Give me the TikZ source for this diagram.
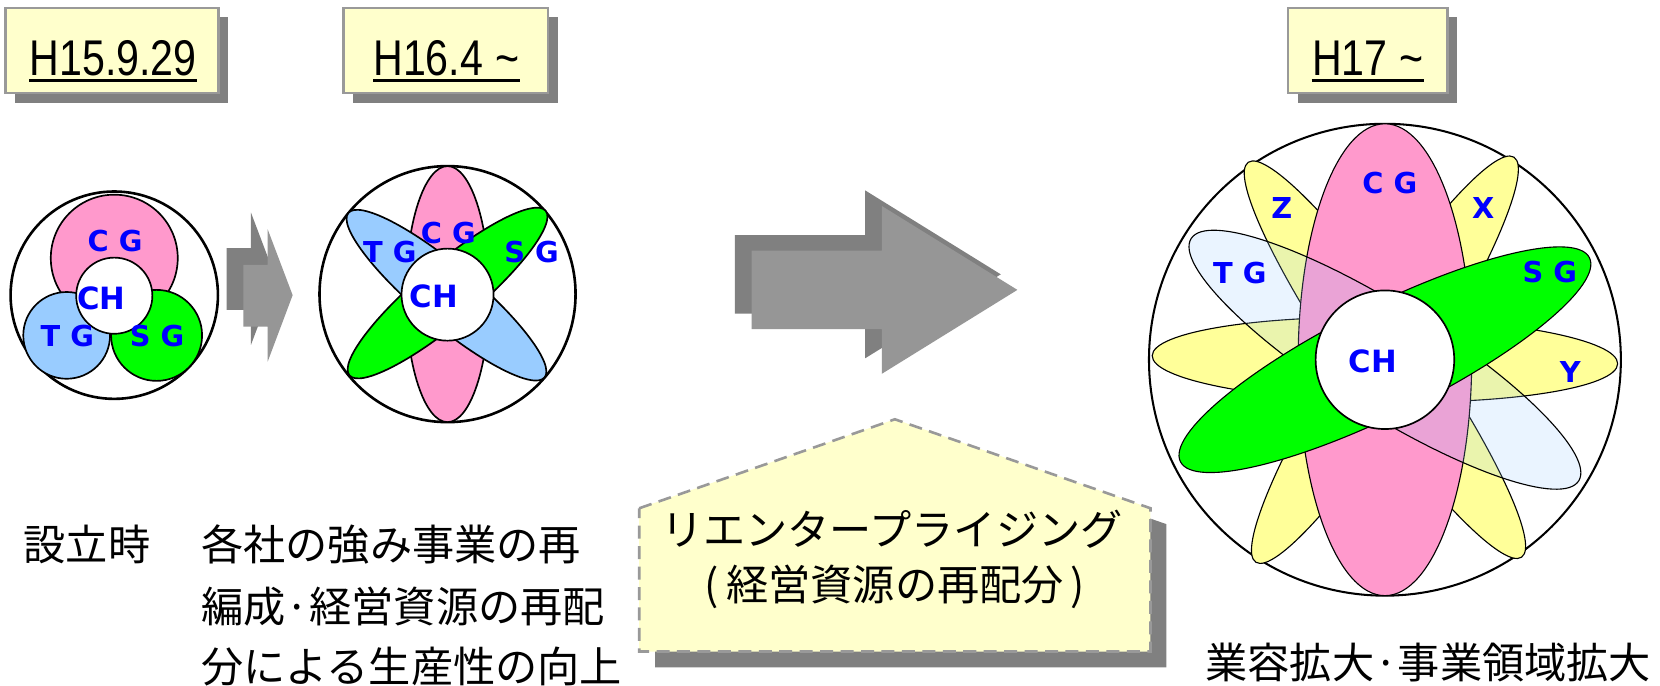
\documentclass[tikz,border=0pt]{standalone}
\usepackage{graphicx}
\usepackage{fontspec}
\setmainfont{Noto Sans CJK JP}
\newfontfamily\arialf{Liberation Sans}
\newfontfamily\lblf{DejaVu Sans}
\definecolor{boxfill}{HTML}{FFFFCC}
\definecolor{boxedge}{HTML}{999999}
\definecolor{shadowgray}{HTML}{808080}
\definecolor{arrowback}{HTML}{808080}
\definecolor{arrowfront}{HTML}{969696}
\definecolor{pinkf}{HTML}{FF99CC}
\definecolor{bluef}{HTML}{99CCFF}
\definecolor{greenf}{HTML}{00FF00}
\definecolor{yellowf}{HTML}{FFFF99}
\definecolor{lblblue}{HTML}{0000FF}
\begin{document}
\begin{tikzpicture}[x=0.02cm,y=-0.02cm,
  dshadow/.style={fill=shadowgray, draw=none},
  dbox/.style={fill=boxfill, draw=boxedge, line width=1.4pt},
  dtext/.style={font=\arialf\fontsize{27}{30}\selectfont, inner sep=0pt, anchor=base},
  uline/.style={line width=1.5pt},
  outerring/.style={draw=black, line width=1.4pt},
  part/.style={draw=black, line width=0.9pt},
  thinpart/.style={draw=black, line width=0.6pt},
  lbl/.style={font=\lblf\bfseries\fontsize{15.5}{18}\selectfont, text=lblblue, inner sep=0pt},
  chlbl/.style={font=\lblf\bfseries\fontsize{16.5}{19}\selectfont, text=lblblue, inner sep=0pt},
  jtext/.style={font=\fontsize{22.7}{27}\selectfont, inner sep=0pt},
  callout/.style={fill=boxfill, draw=boxedge, line width=1.4pt, dash pattern=on 7pt off 4pt},
]
\useasboundingbox[fill=white] (0,0) rectangle (1569,648);

% ---------- date boxes ----------
\fill[dshadow] (14,16.4) rectangle (215.5,97);
\draw[dbox] (5,7.4) rectangle (206.5,88);
\node[dtext] (d1) at (107,70.9) {\scalebox{0.82}[1]{H15.9.29}};
\draw[uline] ([yshift=-3pt]d1.base west) -- ([yshift=-3pt]d1.base east);

\fill[dshadow] (333.7,16.4) rectangle (527,97);
\draw[dbox] (324.7,7.4) rectangle (518,88);
\node[dtext] (d2) at (422,70.9) {\scalebox{0.82}[1]{H16.4\hspace{0.3em}\char"007E}};
\draw[uline] ([yshift=-3pt]d2.base west) -- ([yshift=-3pt]d2.base east);

\fill[dshadow] (1226.5,16.4) rectangle (1377,97);
\draw[dbox] (1217.5,7.4) rectangle (1368,88);
\node[dtext] (d3) at (1293,70.9) {\scalebox{0.82}[1]{H17\hspace{0.3em}\char"007E}};
\draw[uline] ([yshift=-3pt]d3.base west) -- ([yshift=-3pt]d3.base east);

% ---------- stage 1 ----------
\draw[outerring] (108,279) circle[radius=98];
\draw[part, fill=pinkf] (108,244) circle[radius=60];
\draw[part, fill=bluef] (63,317) circle[radius=41];
\draw[part, fill=greenf] (148,317) circle[radius=43];
\draw[part, fill=white] (108,279.5) circle[radius=36];
\node[lbl] (a1) at (108.7,227.4) {C G};
\node[chlbl] (a2) at (96,282) {CH};
\node[lbl] (a3) at (63.7,318) {T G};
\node[lbl] (a4) at (148.4,318) {S G};

% ---------- small double arrow ----------
\fill[arrowback] (214.2,234.6) -- (237.2,234.6) -- (237.2,200.9) -- (260.8,263.2)
  -- (237.2,326) -- (237.2,292.9) -- (214.2,292.9) -- cycle;
\fill[arrowfront] (230,250.4) -- (253,250.4) -- (253,216.7) -- (276.6,279)
  -- (253,341.8) -- (253,308.7) -- (230,308.7) -- cycle;

% ---------- stage 2 ----------
\draw[outerring] (423,278) circle[radius=121];
\draw[part, fill=pinkf] (423,278) ellipse[x radius=39.5, y radius=121];
\draw[part, fill=bluef, rotate around={-40:(422,279)}] (422,279) ellipse[x radius=121, y radius=28];
\draw[part, fill=greenf, rotate around={40:(423,277)}] (423,277) ellipse[x radius=121, y radius=28];
\draw[part, fill=white] (423,278.5) circle[radius=43.5];
\node[lbl] (b1) at (423.7,220.5) {C G};
\node[lbl] (b2) at (368.5,237.8) {T G};
\node[lbl] (b3) at (502.4,237.8) {S G};
\node[chlbl] (b4) at (410,280.4) {CH};

% ---------- big arrow ----------
\fill[arrowback] (694.6,222.2) -- (817.8,222.2) -- (817.8,180) -- (945.9,259.3)
  -- (817.8,338.6) -- (817.8,296.5) -- (694.6,296.5) -- cycle;
\fill[arrowfront] (710.3,236.9) -- (833.5,236.9) -- (833.5,194.7) -- (961.6,274)
  -- (833.5,353.3) -- (833.5,311.2) -- (710.3,311.2) -- cycle;

% ---------- callout ----------
\fill[dshadow] (619.2,495.4) -- (860.8,411.3) -- (1102.4,495.4) -- (1102.4,630.8) -- (619.2,630.8) -- cycle;
\draw[callout] (604.2,480.4) -- (845.8,396.3) -- (1087.4,480.4) -- (1087.4,615.8) -- (604.2,615.8) -- cycle;
\node[jtext] (c1) at (843,500) {リエンタープライジング};
\node[jtext] (c2) at (846,555) {(\,経営資源の再配分\,)};

% ---------- stage 3 ----------
\draw[draw=black, line width=1.1pt] (1309,340) circle[radius=223];
\draw[thinpart, fill=yellowf, rotate around={-1:(1309,340)}] (1309,340) ellipse[x radius=220, y radius=40];
\draw[thinpart, fill=yellowf, rotate around={-55.3:(1309,340)}] (1309,340) ellipse[x radius=227, y radius=38];
\draw[thinpart, fill=yellowf, rotate around={57.5:(1309,340)}] (1309,340) ellipse[x radius=227, y radius=38];
\draw[thinpart, fill=pinkf] (1309,340) ellipse[x radius=82, y radius=223];
\draw[thinpart, fill=bluef, fill opacity=0.2, rotate around={-32:(1309,340)}] (1309,340) ellipse[x radius=216, y radius=51];
\draw[thinpart, fill=greenf, rotate around={26.5:(1309,340)}] (1309,340) ellipse[x radius=216, y radius=51];
\draw[part, fill=white] (1309,340) circle[radius=65.5];
\node[lbl] (e1) at (1313.6,172.6) {C G};
\node[lbl] (e2) at (1211.5,196.9) {Z};
\node[lbl] (e3) at (1401.8,196.9) {X};
\node[lbl] (e4) at (1171.8,257.7) {T G};
\node[lbl] (e5) at (1464.8,256.7) {S G};
\node[chlbl] (e6) at (1297.5,341.1) {CH};
\node[lbl] (e7) at (1484.3,351.2) {Y};

% ---------- bottom texts ----------
\node[jtext, anchor=west] (t1) at (22,515) {設立時};
\node[jtext, anchor=west] (t2) at (190,515) {各社の強み事業の再};
\node[jtext, anchor=west] (t3) at (190,573) {編成·経営資源の再配};
\node[jtext, anchor=west] (t4) at (190,630) {分による生産性の向上};
\node[jtext] (t5) at (1350,626) {業容拡大·事業領域拡大};
\end{tikzpicture}
\end{document}
